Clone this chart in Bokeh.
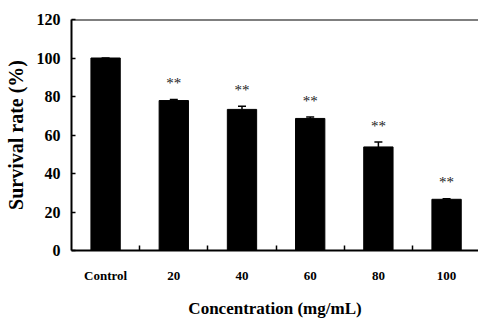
from bokeh.plotting import figure
from bokeh.models import Range1d, FixedTicker, Span, ColumnDataSource, Whisker, TeeHead
from bokeh.core.properties import value
from bokeh.embed import file_html
from bokeh.resources import INLINE

categories = ["Control", "20", "40", "60", "80", "100"]
survival = [100.0, 77.9, 73.3, 68.6, 53.8, 26.6]
errors = [0.0, 0.6, 1.7, 0.7, 2.6, 0.3]
marks = ["", "**", "**", "**", "**", "**"]
y_ticks = [0, 20, 40, 60, 80, 100, 120]

xs = [i + 0.5 for i in range(len(categories))]
upper = [v + e for v, e in zip(survival, errors)]
star_y = [u + 8.5 for u in upper]

src = ColumnDataSource(dict(x=xs, top=survival, upper=upper, lower=survival,
                            sy=star_y, mark=marks))

FONT = "Liberation Serif"

p = figure(width=478, height=320, output_backend="svg", toolbar_location=None,
           x_range=Range1d(0, 5.968), y_range=Range1d(0, 120),
           min_border_left=71, min_border_right=0, min_border_top=19,
           min_border_bottom=67)
p.outline_line_color = None
p.xgrid.visible = False
p.ygrid.visible = False
p.background_fill_color = "white"

p.vbar(x="x", top="top", bottom=0, width=0.43, source=src,
       fill_color="black", line_color="black")

w = Whisker(base="x", upper="upper", lower="lower", source=src,
            line_color="black", line_width=1.5,
            upper_head=TeeHead(size=8, line_color="black", line_width=1.5),
            lower_head=None)
p.add_layout(w)

p.text(x="x", y="sy", text="mark", source=src, text_align="center",
       text_baseline="middle", text_font=value(FONT), text_font_size="15px",
       text_color="#222222")

p.add_layout(Span(location=120, dimension="width", line_color="black", line_width=2))

# x axis
p.xaxis.ticker = FixedTicker(ticks=xs, minor_ticks=[1, 2, 3, 4, 5])
p.xaxis.major_label_overrides = {x: c for x, c in zip(xs, categories)}
p.xaxis.major_tick_line_color = None
p.xaxis.major_tick_in = 0
p.xaxis.major_tick_out = 0
p.xaxis.minor_tick_in = 5
p.xaxis.minor_tick_out = 0
p.xaxis.minor_tick_line_width = 1.5
p.xaxis.axis_line_width = 2
p.xaxis.major_label_standoff = 17
p.xaxis.major_label_text_font = FONT
p.xaxis.major_label_text_font_style = "bold"
p.xaxis.major_label_text_font_size = "13px"
p.xaxis.major_label_text_color = "black"
p.xaxis.axis_label = "Concentration (mg/mL)"
p.xaxis.axis_label_text_font = FONT
p.xaxis.axis_label_text_font_style = "bold"
p.xaxis.axis_label_text_font_size = "17px"
p.xaxis.axis_label_text_color = "black"
p.xaxis.axis_label_standoff = 13

# y axis
p.yaxis.ticker = FixedTicker(ticks=y_ticks)
p.yaxis.major_tick_in = 4
p.yaxis.major_tick_out = 0
p.yaxis.major_tick_line_width = 1.5
p.yaxis.minor_tick_line_color = None
p.yaxis.axis_line_width = 2
p.yaxis.major_label_standoff = 11
p.yaxis.major_label_text_font = FONT
p.yaxis.major_label_text_font_style = "bold"
p.yaxis.major_label_text_font_size = "16px"
p.yaxis.major_label_text_color = "black"
p.yaxis.axis_label = "Survival rate (%)"
p.yaxis.axis_label_text_font = FONT
p.yaxis.axis_label_text_font_style = "bold"
p.yaxis.axis_label_text_font_size = "20px"
p.yaxis.axis_label_text_color = "black"
p.yaxis.axis_label_standoff = 7

open("out.html", "w").write(file_html(p, INLINE))
